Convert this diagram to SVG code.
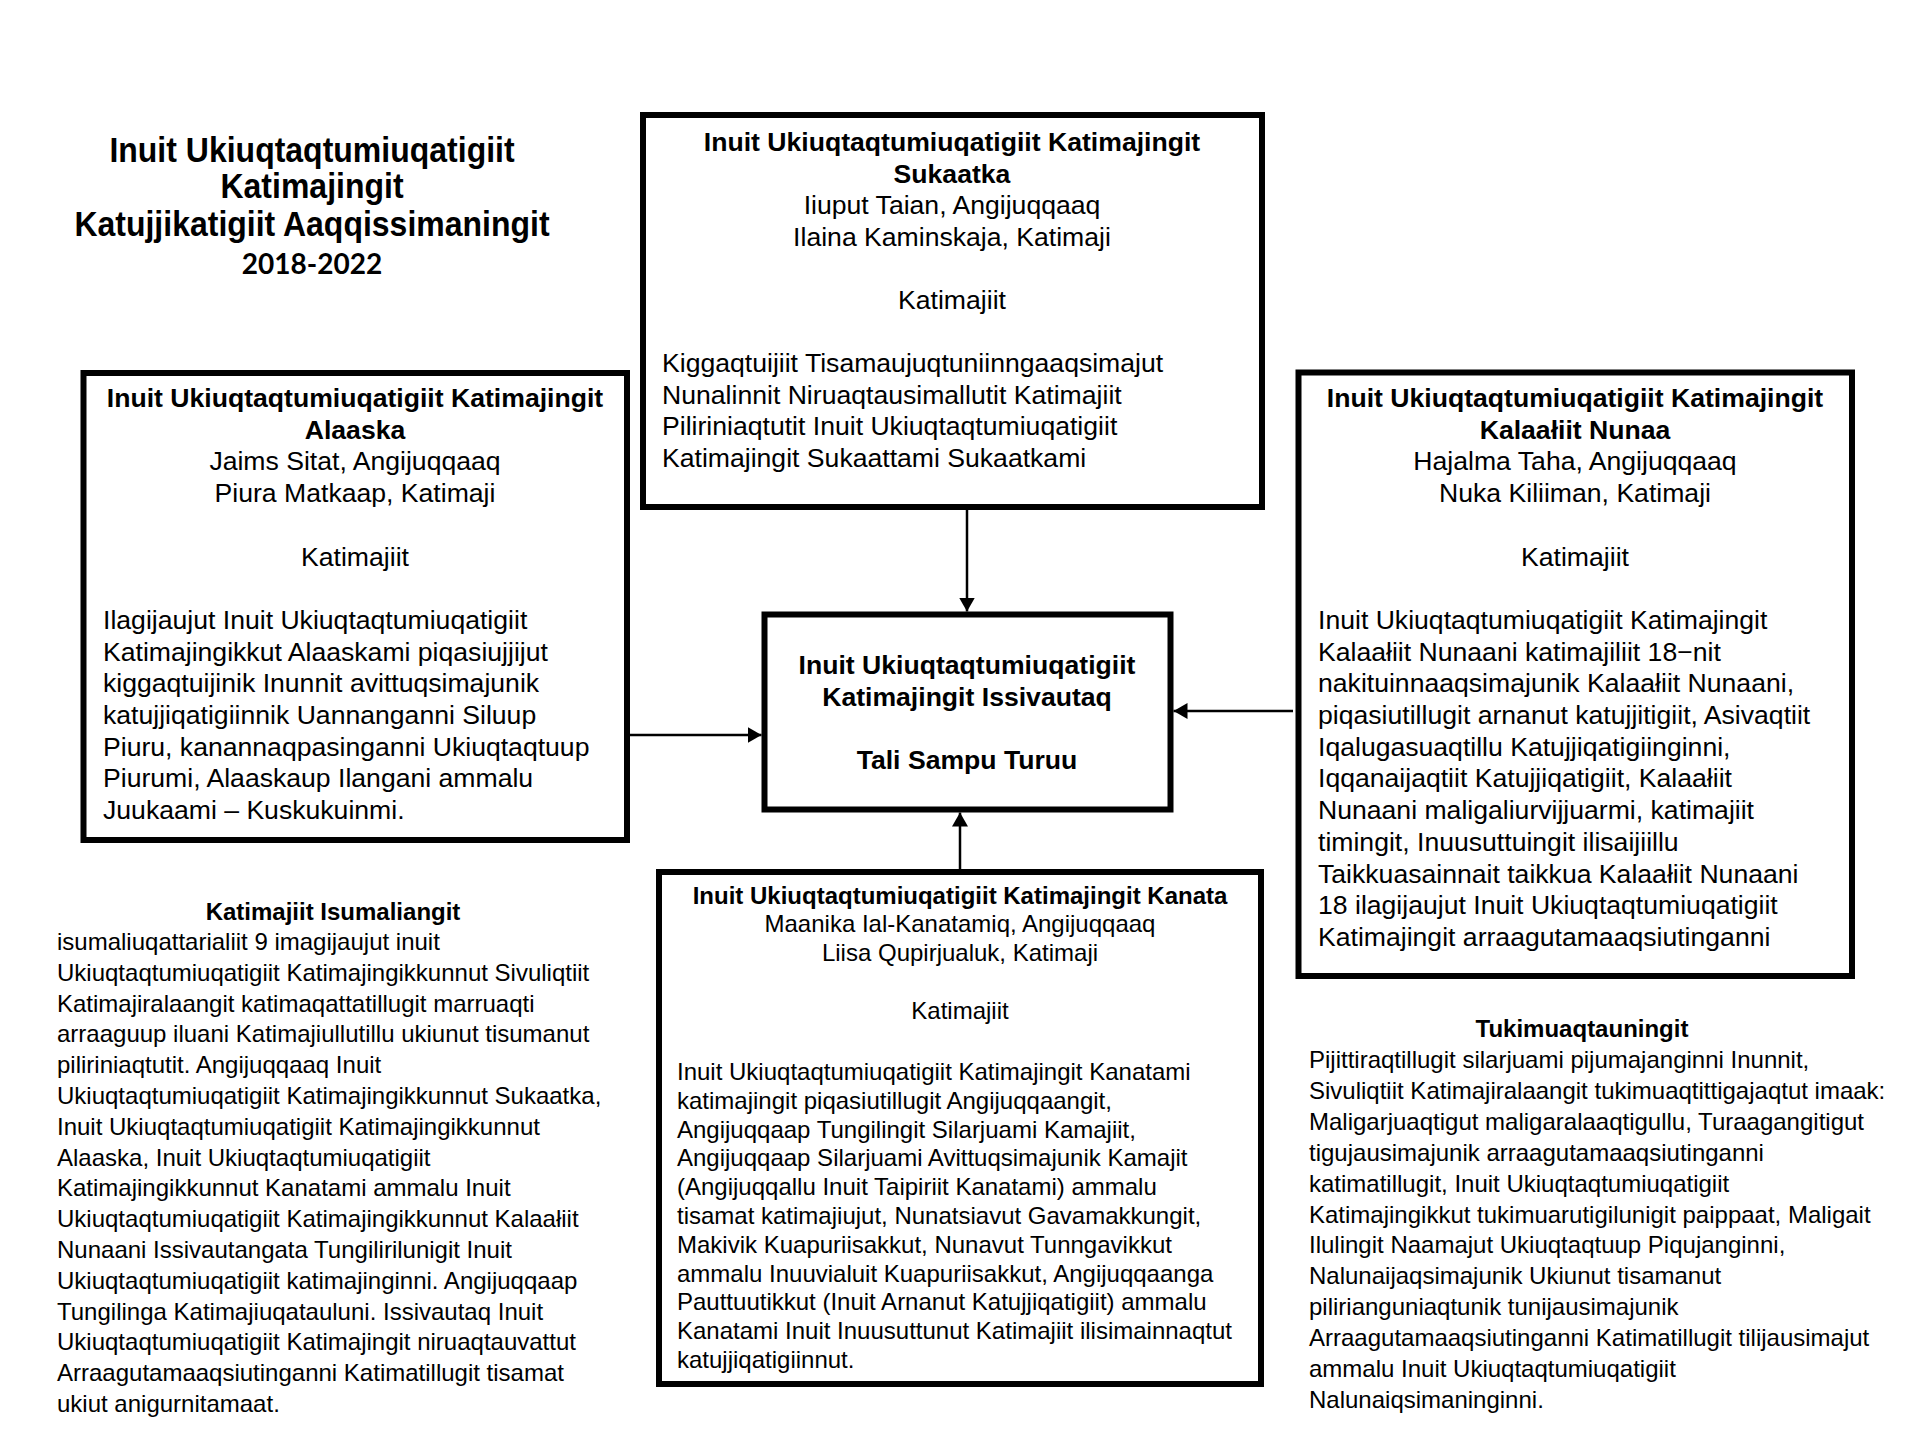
<svg xmlns="http://www.w3.org/2000/svg" width="1920" height="1440" viewBox="0 0 1920 1440">
<defs>
<style>
text{font-family:"Liberation Sans",Arial,sans-serif;fill:#000}
.t{font-size:32px;font-weight:bold;text-anchor:middle}
.h{font-size:26.6px;font-weight:bold;text-anchor:middle}
.c{font-size:26.6px;text-anchor:middle}
.r{font-size:26.6px}
.hs{font-size:24px;font-weight:bold;text-anchor:middle}
.cs{font-size:24px;text-anchor:middle}
.rs{font-size:24px}
.box{fill:#fff;stroke:#000;stroke-width:6}
.con{fill:none;stroke:#000;stroke-width:2.5}
</style>
<marker id="ah" viewBox="0 0 14 16" refX="14" refY="8" markerWidth="14" markerHeight="16" markerUnits="userSpaceOnUse" orient="auto">
<path d="M0,0 L14,8 L0,16 z" fill="#000"/>
</marker>
</defs>
<rect width="1920" height="1440" fill="#fff"/>

<g id="title">
<g transform="translate(312 0) scale(1 1.12)">
<text class="t" x="0" y="144.6">Inuit Ukiuqtaqtumiuqatigiit</text>
<text class="t" x="0" y="176.8">Katimajingit</text>
<text class="t" x="0" y="210.7">Katujjikatigiit Aaqqissimaningit</text>
</g>
<text x="312" y="274" style="font-family:Lato,'Liberation Sans',sans-serif;font-size:28px;font-weight:bold;text-anchor:middle">2018-2022</text>
</g>

<g id="connectors">
<path class="con" d="M967,510 V611.5" marker-end="url(#ah)"/>
<path class="con" d="M630,735 H761.5" marker-end="url(#ah)"/>
<path class="con" d="M1293,711 H1173.5" marker-end="url(#ah)"/>
<path class="con" d="M960,869 V812.5" marker-end="url(#ah)"/>
</g>

<g id="node-sukaatka">
<rect class="box" x="643" y="115" width="619" height="392"/>
<text class="h" x="952" y="151">Inuit Ukiuqtaqtumiuqatigiit Katimajingit</text>
<text class="h" x="952" y="182.6">Sukaatka</text>
<text class="c" x="952" y="214.2">Iiuput Taian, Angijuqqaaq</text>
<text class="c" x="952" y="245.8">Ilaina Kaminskaja, Katimaji</text>
<text class="c" x="952" y="309">Katimajiit</text>
<text class="r" x="662" y="372.2">Kiggaqtuijiit Tisamaujuqtuniinngaaqsimajut</text>
<text class="r" x="662" y="403.8">Nunalinnit Niruaqtausimallutit Katimajiit</text>
<text class="r" x="662" y="435.4">Piliriniaqtutit Inuit Ukiuqtaqtumiuqatigiit</text>
<text class="r" x="662" y="467">Katimajingit Sukaattami Sukaatkami</text>
</g>

<g id="node-alaaska">
<rect class="box" x="83.5" y="373" width="543.5" height="467"/>
<text class="h" x="355" y="407">Inuit Ukiuqtaqtumiuqatigiit Katimajingit</text>
<text class="h" x="355" y="438.7">Alaaska</text>
<text class="c" x="355" y="470.4">Jaims Sitat, Angijuqqaaq</text>
<text class="c" x="355" y="502.1">Piura Matkaap, Katimaji</text>
<text class="c" x="355" y="565.5">Katimajiit</text>
<text class="r" x="103" y="628.9">Ilagijaujut Inuit Ukiuqtaqtumiuqatigiit</text>
<text class="r" x="103" y="660.6">Katimajingikkut Alaaskami piqasiujjijut</text>
<text class="r" x="103" y="692.3">kiggaqtuijinik Inunnit avittuqsimajunik</text>
<text class="r" x="103" y="724">katujjiqatigiinnik Uannanganni Siluup</text>
<text class="r" x="103" y="755.7">Piuru, kanannaqpasinganni Ukiuqtaqtuup</text>
<text class="r" x="103" y="787.4">Piurumi, Alaaskaup Ilangani ammalu</text>
<text class="r" x="103" y="819.1">Juukaami – Kuskukuinmi.</text>
</g>

<g id="node-kalaallit">
<rect class="box" x="1298.5" y="372.5" width="553.5" height="603.5"/>
<text class="h" x="1575" y="407">Inuit Ukiuqtaqtumiuqatigiit Katimajingit</text>
<text class="h" x="1575" y="438.7">Kalaałiit Nunaa</text>
<text class="c" x="1575" y="470.4">Hajalma Taha, Angijuqqaaq</text>
<text class="c" x="1575" y="502.1">Nuka Kiliiman, Katimaji</text>
<text class="c" x="1575" y="565.5">Katimajiit</text>
<text class="r" x="1318" y="628.9">Inuit Ukiuqtaqtumiuqatigiit Katimajingit</text>
<text class="r" x="1318" y="660.6">Kalaałiit Nunaani katimajiliit 18−nit</text>
<text class="r" x="1318" y="692.3">nakituinnaaqsimajunik Kalaałiit Nunaani,</text>
<text class="r" x="1318" y="724">piqasiutillugit arnanut katujjitigiit, Asivaqtiit</text>
<text class="r" x="1318" y="755.7">Iqalugasuaqtillu Katujjiqatigiinginni,</text>
<text class="r" x="1318" y="787.4">Iqqanaijaqtiit Katujjiqatigiit, Kalaałiit</text>
<text class="r" x="1318" y="819.1">Nunaani maligaliurvijjuarmi, katimajiit</text>
<text class="r" x="1318" y="850.8">timingit, Inuusuttuingit ilisaijiillu</text>
<text class="r" x="1318" y="882.5">Taikkuasainnait taikkua Kalaałiit Nunaani</text>
<text class="r" x="1318" y="914.2">18 ilagijaujut Inuit Ukiuqtaqtumiuqatigiit</text>
<text class="r" x="1318" y="945.9">Katimajingit arraagutamaaqsiutinganni</text>
</g>

<g id="node-issivautaq">
<rect class="box" x="764.5" y="614.5" width="406" height="195"/>
<text class="h" x="967" y="674">Inuit Ukiuqtaqtumiuqatigiit</text>
<text class="h" x="967" y="705.6">Katimajingit Issivautaq</text>
<text class="h" x="967" y="768.8">Tali Sampu Turuu</text>
</g>

<g id="node-kanata">
<rect class="box" x="659" y="872" width="602" height="512"/>
<text class="hs" x="960" y="903.5">Inuit Ukiuqtaqtumiuqatigiit Katimajingit Kanata</text>
<text class="cs" x="960" y="932.3">Maanika Ial-Kanatamiq, Angijuqqaaq</text>
<text class="cs" x="960" y="961.1">Liisa Qupirjualuk, Katimaji</text>
<text class="cs" x="960" y="1018.7">Katimajiit</text>
<text class="rs" x="677" y="1080">Inuit Ukiuqtaqtumiuqatigiit Katimajingit Kanatami</text>
<text class="rs" x="677" y="1108.8">katimajingit piqasiutillugit Angijuqqaangit,</text>
<text class="rs" x="677" y="1137.6">Angijuqqaap Tungilingit Silarjuami Kamajiit,</text>
<text class="rs" x="677" y="1166.4">Angijuqqaap Silarjuami Avittuqsimajunik Kamajit</text>
<text class="rs" x="677" y="1195.2">(Angijuqqallu Inuit Taipiriit Kanatami) ammalu</text>
<text class="rs" x="677" y="1224">tisamat katimajiujut, Nunatsiavut Gavamakkungit,</text>
<text class="rs" x="677" y="1252.8">Makivik Kuapuriisakkut, Nunavut Tunngavikkut</text>
<text class="rs" x="677" y="1281.6">ammalu Inuuvialuit Kuapuriisakkut, Angijuqqaanga</text>
<text class="rs" x="677" y="1310.4">Pauttuutikkut (Inuit Arnanut Katujjiqatigiit) ammalu</text>
<text class="rs" x="677" y="1339.2">Kanatami Inuit Inuusuttunut Katimajiit ilisimainnaqtut</text>
<text class="rs" x="677" y="1368">katujjiqatigiinnut.</text>
</g>

<g id="note-isumaliangit">
<text class="hs" x="333" y="919.5">Katimajiit Isumaliangit</text>
<text class="rs" x="57" y="950">isumaliuqattarialiit 9 imagijaujut inuit</text>
<text class="rs" x="57" y="980.8">Ukiuqtaqtumiuqatigiit Katimajingikkunnut Sivuliqtiit</text>
<text class="rs" x="57" y="1011.6">Katimajiralaangit katimaqattatillugit marruaqti</text>
<text class="rs" x="57" y="1042.4">arraaguup iluani Katimajiullutillu ukiunut tisumanut</text>
<text class="rs" x="57" y="1073.2">piliriniaqtutit. Angijuqqaaq Inuit</text>
<text class="rs" x="57" y="1104">Ukiuqtaqtumiuqatigiit Katimajingikkunnut Sukaatka,</text>
<text class="rs" x="57" y="1134.8">Inuit Ukiuqtaqtumiuqatigiit Katimajingikkunnut</text>
<text class="rs" x="57" y="1165.6">Alaaska, Inuit Ukiuqtaqtumiuqatigiit</text>
<text class="rs" x="57" y="1196.4">Katimajingikkunnut Kanatami ammalu Inuit</text>
<text class="rs" x="57" y="1227.2">Ukiuqtaqtumiuqatigiit Katimajingikkunnut Kalaałiit</text>
<text class="rs" x="57" y="1258">Nunaani Issivautangata Tungilirilunigit Inuit</text>
<text class="rs" x="57" y="1288.8">Ukiuqtaqtumiuqatigiit katimajinginni. Angijuqqaap</text>
<text class="rs" x="57" y="1319.6">Tungilinga Katimajiuqatauluni. Issivautaq Inuit</text>
<text class="rs" x="57" y="1350.4">Ukiuqtaqtumiuqatigiit Katimajingit niruaqtauvattut</text>
<text class="rs" x="57" y="1381.2">Arraagutamaaqsiutinganni Katimatillugit tisamat</text>
<text class="rs" x="57" y="1412">ukiut anigurnitamaat.</text>
</g>

<g id="note-tukimuaqtauningit">
<text class="hs" x="1582" y="1037">Tukimuaqtauningit</text>
<text class="rs" x="1309" y="1068">Pijittiraqtillugit silarjuami pijumajanginni Inunnit,</text>
<text class="rs" x="1309" y="1098.9">Sivuliqtiit Katimajiralaangit tukimuaqtittigajaqtut imaak:</text>
<text class="rs" x="1309" y="1129.8">Maligarjuaqtigut maligaralaaqtigullu, Turaagangitigut</text>
<text class="rs" x="1309" y="1160.7">tigujausimajunik arraagutamaaqsiutinganni</text>
<text class="rs" x="1309" y="1191.6">katimatillugit, Inuit Ukiuqtaqtumiuqatigiit</text>
<text class="rs" x="1309" y="1222.5">Katimajingikkut tukimuarutigilunigit paippaat, Maligait</text>
<text class="rs" x="1309" y="1253.4">Ilulingit Naamajut Ukiuqtaqtuup Piqujanginni,</text>
<text class="rs" x="1309" y="1284.3">Nalunaijaqsimajunik Ukiunut tisamanut</text>
<text class="rs" x="1309" y="1315.2">pilirianguniaqtunik tunijausimajunik</text>
<text class="rs" x="1309" y="1346.1">Arraagutamaaqsiutinganni Katimatillugit tilijausimajut</text>
<text class="rs" x="1309" y="1377">ammalu Inuit Ukiuqtaqtumiuqatigiit</text>
<text class="rs" x="1309" y="1407.9">Nalunaiqsimaninginni.</text>
</g>
</svg>
